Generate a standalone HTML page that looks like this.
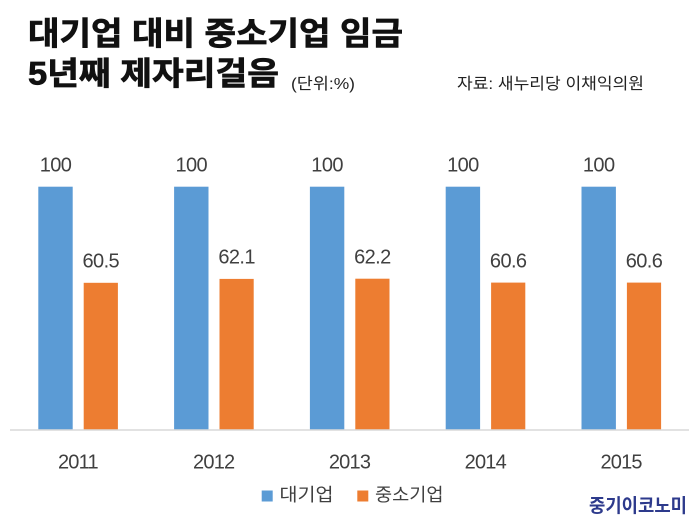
<!DOCTYPE html>
<html>
<head>
<meta charset="utf-8">
<style>
  html, body { margin: 0; padding: 0; background: #ffffff; }
  body { width: 700px; height: 524px; overflow: hidden; }
  svg { display: block; }
  .t { font-family: "Liberation Sans", "Noto Sans CJK KR", sans-serif; }
</style>
</head>
<body>
<svg width="700" height="524" viewBox="0 0 700 524" xmlns="http://www.w3.org/2000/svg">
  <rect width="700" height="524" fill="#ffffff"/>

  <!-- Title -->
  <text class="t" x="28" y="44.5" font-size="32" font-weight="bold" fill="#111111" stroke="#111111" stroke-width="0.7" textLength="375" lengthAdjust="spacingAndGlyphs">대기업 대비 중소기업 임금</text>
  <text class="t" x="28" y="84.5" font-size="32" font-weight="bold" fill="#111111" stroke="#111111" stroke-width="0.7" textLength="251" lengthAdjust="spacingAndGlyphs">5년째 제자리걸음</text>
  <text class="t" x="291" y="89" font-size="16" fill="#222222" textLength="64" lengthAdjust="spacingAndGlyphs">(단위:%)</text>
  <text class="t" x="457" y="89" font-size="16" fill="#222222" textLength="187" lengthAdjust="spacingAndGlyphs">자료: 새누리당 이채익의원</text>

  <!-- Bars -->
  <g>
    <rect x="38.3" y="186.7" width="34.4" height="243.3" fill="#5b9bd5"/>
    <rect x="83.7" y="282.8" width="34.2" height="147.2" fill="#ed7d31"/>
    <rect x="174.1" y="186.7" width="34.4" height="243.3" fill="#5b9bd5"/>
    <rect x="219.5" y="278.9" width="34.2" height="151.1" fill="#ed7d31"/>
    <rect x="309.9" y="186.7" width="34.4" height="243.3" fill="#5b9bd5"/>
    <rect x="355.3" y="278.7" width="34.2" height="151.3" fill="#ed7d31"/>
    <rect x="445.7" y="186.7" width="34.4" height="243.3" fill="#5b9bd5"/>
    <rect x="491.1" y="282.6" width="34.2" height="147.4" fill="#ed7d31"/>
    <rect x="581.5" y="186.7" width="34.4" height="243.3" fill="#5b9bd5"/>
    <rect x="626.9" y="282.6" width="34.2" height="147.4" fill="#ed7d31"/>
  </g>

  <!-- Axis line -->
  <line x1="10" y1="430" x2="689" y2="430" stroke="#d9d9d9" stroke-width="1.5"/>

  <!-- Data labels -->
  <g class="t" font-size="20" fill="#404040" text-anchor="middle" letter-spacing="-0.6">
    <text x="55.5" y="171.7">100</text>
    <text x="100.8" y="267.5">60.5</text>
    <text x="191.3" y="171.7">100</text>
    <text x="236.6" y="263.6">62.1</text>
    <text x="327.1" y="171.7">100</text>
    <text x="372.4" y="263.4">62.2</text>
    <text x="462.9" y="171.7">100</text>
    <text x="508.2" y="267.3">60.6</text>
    <text x="598.7" y="171.7">100</text>
    <text x="644.0" y="267.3">60.6</text>
  </g>

  <!-- Category labels -->
  <g class="t" font-size="20" fill="#404040" text-anchor="middle" letter-spacing="-0.8">
    <text x="77.9" y="468.3">2011</text>
    <text x="213.7" y="468.3">2012</text>
    <text x="349.5" y="468.3">2013</text>
    <text x="485.3" y="468.3">2014</text>
    <text x="621.1" y="468.3">2015</text>
  </g>

  <!-- Legend -->
  <rect x="261.7" y="490.5" width="11" height="11" fill="#5b9bd5"/>
  <text class="t" x="279.5" y="501" font-size="18" fill="#404040" textLength="54" lengthAdjust="spacingAndGlyphs">대기업</text>
  <rect x="357.3" y="490.5" width="11" height="11" fill="#ed7d31"/>
  <text class="t" x="375" y="501" font-size="18" fill="#404040" textLength="68.5" lengthAdjust="spacingAndGlyphs">중소기업</text>

  <!-- Logo -->
  <text class="t" x="589" y="512" font-size="19" font-weight="bold" fill="#2d3a8c" textLength="98" lengthAdjust="spacingAndGlyphs">중기이코노미</text>
</svg>
</body>
</html>
